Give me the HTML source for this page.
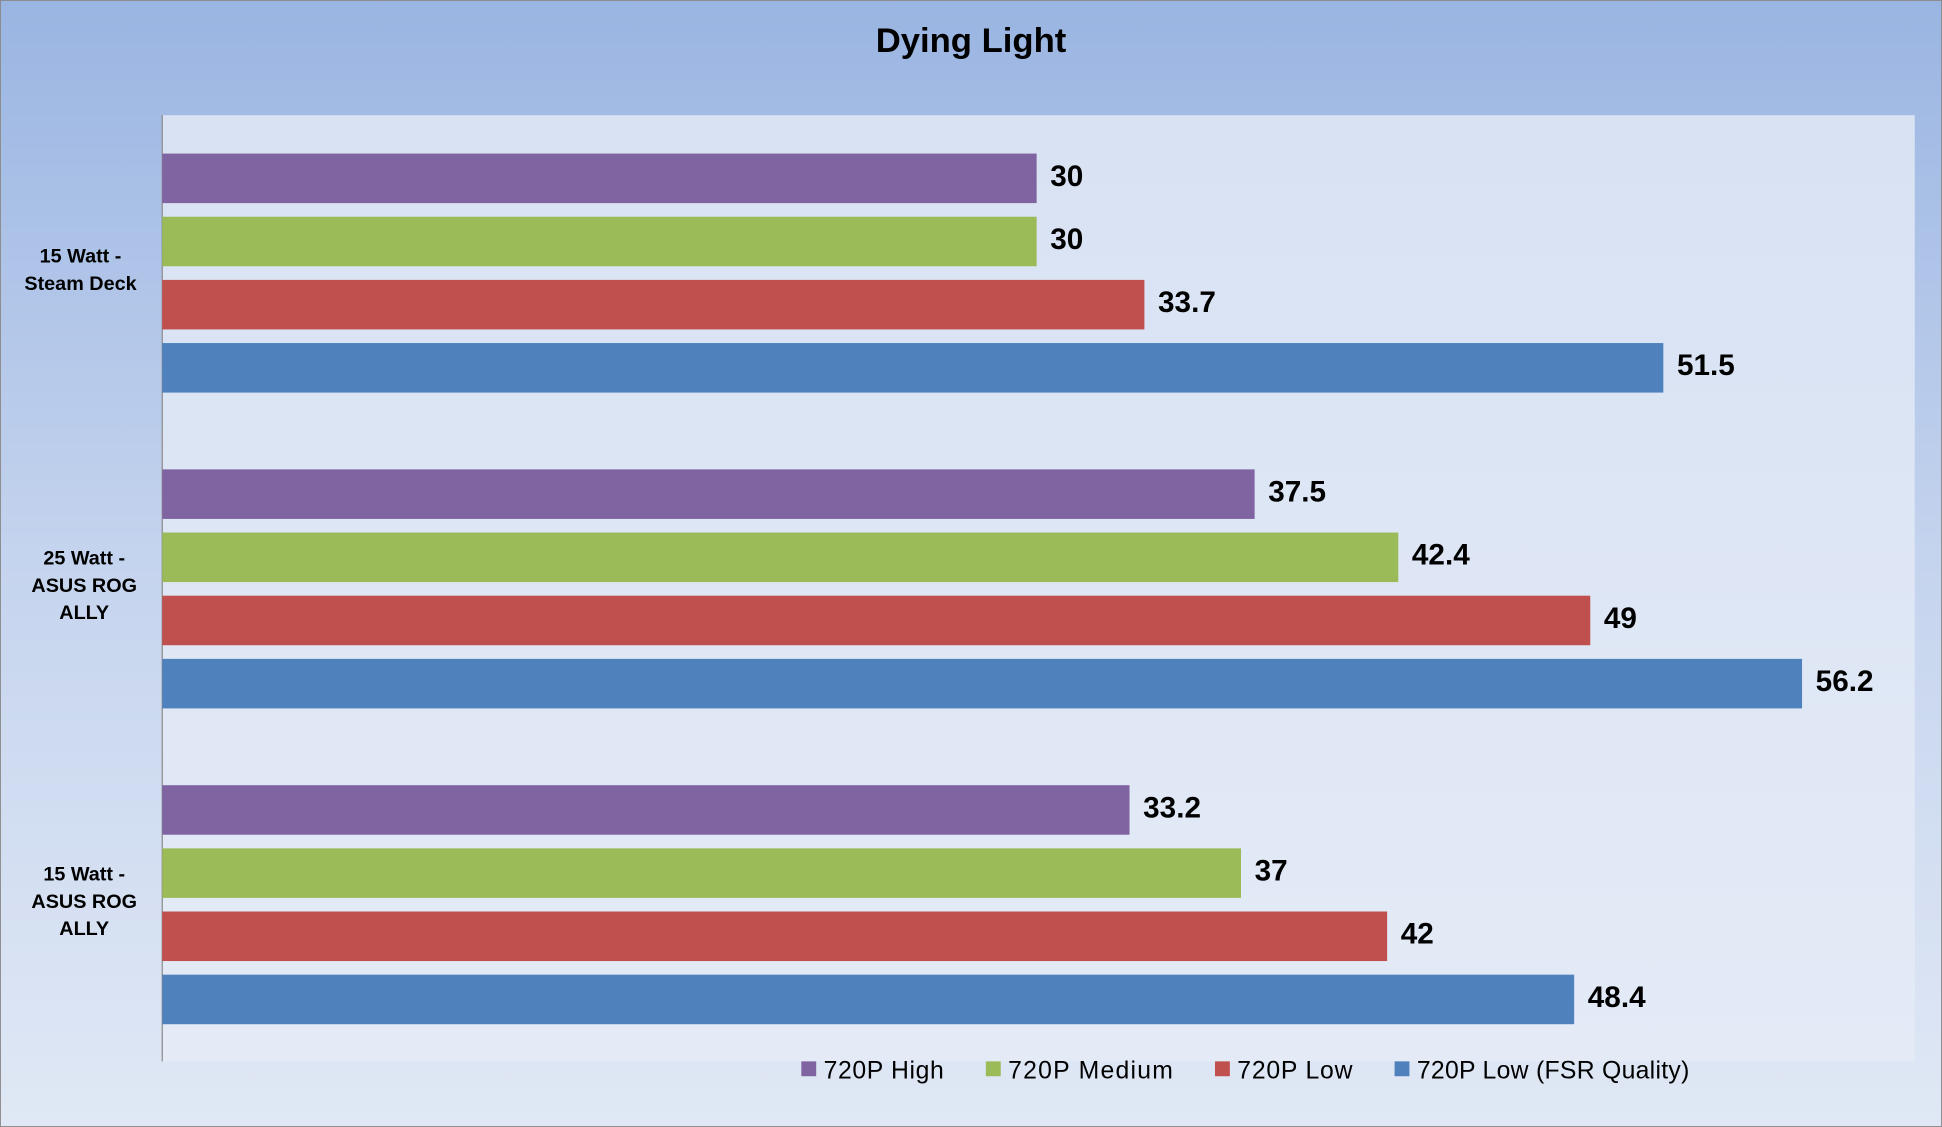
<!DOCTYPE html>
<html><head><meta charset="utf-8"><style>html,body{margin:0;padding:0;overflow:hidden}svg{display:block}</style></head>
<body>
<svg width="1942" height="1127" viewBox="0 0 1568 910" preserveAspectRatio="none" xmlns="http://www.w3.org/2000/svg" font-family="Liberation Sans, sans-serif">
<defs>
<linearGradient id="bg" x1="0" y1="0" x2="0" y2="1">
<stop offset="0" stop-color="#9ab5e2"/><stop offset="0.5" stop-color="#c5d4ee"/><stop offset="1" stop-color="#e0e8f5"/>
</linearGradient>
<linearGradient id="pa" x1="0" y1="0" x2="0" y2="1">
<stop offset="0" stop-color="#d8e2f3"/><stop offset="1" stop-color="#e4ebf7"/>
</linearGradient>
</defs>
<rect x="0" y="0" width="1568" height="910" fill="url(#bg)" stroke="#8a8a8a" stroke-width="1.5"/>
<rect x="131" y="93" width="1415" height="764" fill="url(#pa)"/>
<line x1="131" y1="93" x2="131" y2="857" stroke="#8c8c8c" stroke-width="1"/>
<text x="784" y="42" text-anchor="middle" font-size="28" font-weight="bold" fill="#000">Dying Light</text>
<g font-size="16" font-weight="bold" text-anchor="middle" fill="#000">
<text x="65" y="212">15 Watt -</text><text x="65" y="234">Steam Deck</text>
<text x="68" y="456">25 Watt -</text><text x="68" y="478">ASUS ROG</text><text x="68" y="500">ALLY</text>
<text x="68" y="711">15 Watt -</text><text x="68" y="733">ASUS ROG</text><text x="68" y="755">ALLY</text>
</g>
<g>
<rect x="131" y="124" width="706" height="40" fill="#8064a2"/>
<rect x="131" y="175" width="706" height="40" fill="#9bbb59"/>
<rect x="131" y="226" width="793" height="40" fill="#c0504d"/>
<rect x="131" y="277" width="1212" height="40" fill="#4f81bd"/>
<rect x="131" y="379" width="882" height="40" fill="#8064a2"/>
<rect x="131" y="430" width="998" height="40" fill="#9bbb59"/>
<rect x="131" y="481" width="1153" height="40" fill="#c0504d"/>
<rect x="131" y="532" width="1324" height="40" fill="#4f81bd"/>
<rect x="131" y="634" width="781" height="40" fill="#8064a2"/>
<rect x="131" y="685" width="871" height="40" fill="#9bbb59"/>
<rect x="131" y="736" width="989" height="40" fill="#c0504d"/>
<rect x="131" y="787" width="1140" height="40" fill="#4f81bd"/>
</g>
<g font-size="24" font-weight="bold" fill="#000">
<text x="848" y="150">30</text>
<text x="848" y="201">30</text>
<text x="935" y="252">33.7</text>
<text x="1354" y="303">51.5</text>
<text x="1024" y="405">37.5</text>
<text x="1140" y="456">42.4</text>
<text x="1295" y="507">49</text>
<text x="1466" y="558">56.2</text>
<text x="923" y="660">33.2</text>
<text x="1013" y="711">37</text>
<text x="1131" y="762">42</text>
<text x="1282" y="813">48.4</text>
</g>
<g font-size="20" fill="#000">
<rect x="647" y="857" width="12" height="12" fill="#8064a2"/><text x="665" y="871" textLength="97">720P High</text>
<rect x="796" y="857" width="12" height="12" fill="#9bbb59"/><text x="814" y="871" textLength="133">720P Medium</text>
<rect x="981" y="857" width="12" height="12" fill="#c0504d"/><text x="999" y="871" textLength="93">720P Low</text>
<rect x="1126" y="857" width="12" height="12" fill="#4f81bd"/><text x="1144" y="871" textLength="220">720P Low (FSR Quality)</text>
</g>
</svg>
</body></html>
